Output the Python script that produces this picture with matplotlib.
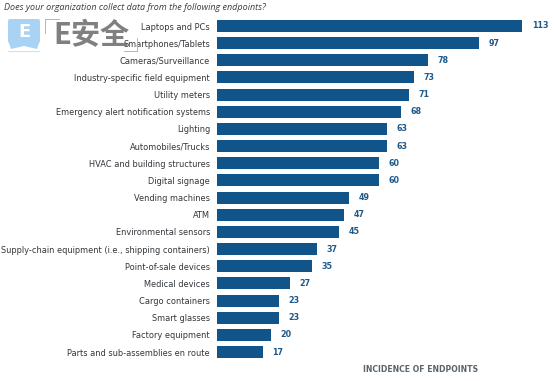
import matplotlib
matplotlib.use("Agg")
import matplotlib.pyplot as plt
from matplotlib.patches import FancyBboxPatch, Polygon, Rectangle

plt.rcParams['font.family'] = ['Noto Sans CJK SC', 'DejaVu Sans']

categories = ["Laptops and PCs", "Smartphones/Tablets", "Cameras/Surveillance",
              "Industry-specific field equipment", "Utility meters",
              "Emergency alert notification systems", "Lighting", "Automobiles/Trucks",
              "HVAC and building structures", "Digital signage", "Vending machines", "ATM",
              "Environmental sensors", "Supply-chain equipment (i.e., shipping containers)",
              "Point-of-sale devices", "Medical devices", "Cargo containers", "Smart glasses",
              "Factory equipment", "Parts and sub-assemblies en route"]
values = [113, 97, 78, 73, 71, 68, 63, 63, 60, 60, 49, 47, 45, 37, 35, 27, 23, 23, 20, 17]
title = "Does your organization collect data from the following endpoints?"
xlabel = "INCIDENCE OF ENDPOINTS"

W, H = 554, 381
fig = plt.figure(figsize=(W / 100, H / 100), dpi=100, facecolor="white")
left, px_per_unit = 217, 2.7
top, step = 26, 17.16
y0 = top - step / 2
y1 = y0 + step * len(values)
ax = fig.add_axes([left / W, 1 - y1 / H, (W - left) / W, (y1 - y0) / H])
ax.barh(range(len(values)), values, height=0.7, color="#10548a")
ax.set_xlim(0, (W - left) / px_per_unit)
ax.set_ylim(len(values) - 0.5, -0.5)
ax.set_xticks([])
ax.set_yticks(range(len(values)), categories)
ax.tick_params(axis="y", length=0, pad=5, labelcolor="#33373b")
for lab in ax.get_yticklabels():
    lab.set_fontfamily(["DejaVu Sans"])
    lab.set_fontsize(5.95)
for s in ax.spines.values():
    s.set_visible(False)
for i, v in enumerate(values):
    ax.annotate(str(v), (v, i), xytext=(7, 0), textcoords="offset points", va="center",
                ha="left", fontsize=5.8, fontweight="bold", color="#1d5a8c",
                family=["DejaVu Sans"])

fig.text(4 / W, 1 - 7 / H, title, fontsize=6.45, style="italic", color="#3a3d40",
         va="center", ha="left", family=["Open Sans"])
fig.text(363 / W, 1 - 369 / H, xlabel, fontsize=5.55, fontweight="bold", color="#5b646b",
         va="center", ha="left", family=["DejaVu Sans"])

# Watermark
ov = fig.add_axes([0, 0, 1, 1], facecolor="none", zorder=5)
ov.set_xlim(0, W); ov.set_ylim(H, 0); ov.axis("off")
ov.add_patch(FancyBboxPatch((8, 19), 32, 24, boxstyle="round,pad=0,rounding_size=2",
                            fc="#a9d3f5", ec="none"))
ov.add_patch(Polygon([(8, 40), (40, 40), (37, 49), (24, 46), (11, 49)], fc="#a9d3f5", ec="none"))
ov.add_patch(Rectangle((8, 50.5), 32, 1.2, fc="#dcdcdc", ec="none"))
ov.text(24, 32, "E", fontsize=13, fontweight="bold", color="white", ha="center", va="center",
        family=["DejaVu Sans"])
ov.text(91, 35, "E安全", fontsize=21, fontweight="bold", color="#6a6a6a", alpha=0.85,
        ha="center", va="center")
ov.plot([59, 45, 45], [19, 19, 33], color="#b5b5b5", lw=0.7)
ov.plot([137, 137, 124], [38, 51, 51], color="#b5b5b5", lw=0.7)

fig.savefig("out.png", dpi=100)
